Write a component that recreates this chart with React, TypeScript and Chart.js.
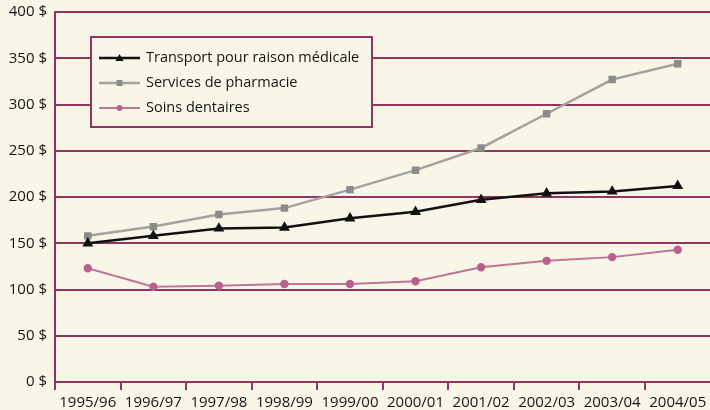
import React, { useEffect, useRef } from "react";
import { Chart, registerables } from "chart.js";

Chart.register(...registerables);

const categories = ["1995/96", "1996/97", "1997/98", "1998/99", "1999/00", "2000/01", "2001/02", "2002/03", "2003/04", "2004/05"];
const transport = [150, 158, 166, 167, 177, 184, 197, 204, 206, 212];
const pharmacie = [158, 168, 181, 188, 208, 229, 253, 290, 327, 344];
const dentaires = [123, 103, 104, 106, 106, 109, 124, 131, 135, 143];
const yTicks = [0, 50, 100, 150, 200, 250, 300, 350, 400];

const BG = "#f8f6e6";
const GRID = "#8e3562";
const FONT = "'Open Sans', sans-serif";
const WEIGHT = "500";

const legendPlugin = {
  id: "boxLegend",
  afterDraw(chart: any) {
    const ctx = chart.ctx;
    const x0 = 91, y0 = 37, w = 281, h = 90;
    ctx.save();
    ctx.fillStyle = BG;
    ctx.fillRect(x0, y0, w, h);
    ctx.strokeStyle = GRID;
    ctx.lineWidth = 2;
    ctx.strokeRect(x0, y0, w, h);
    const rows = [58, 83, 108];
    chart.data.datasets.forEach((ds: any, i: number) => {
      const y = rows[i];
      ctx.strokeStyle = ds.borderColor;
      ctx.lineWidth = ds.borderWidth;
      ctx.beginPath();
      ctx.moveTo(99, y);
      ctx.lineTo(140, y);
      ctx.stroke();
      ctx.fillStyle = ds.pointBackgroundColor;
      const cx = 119.5;
      if (ds.pointStyle === "triangle") {
        ctx.beginPath();
        ctx.moveTo(cx, y - 4);
        ctx.lineTo(cx + 4, y + 3);
        ctx.lineTo(cx - 4, y + 3);
        ctx.closePath();
        ctx.fill();
      } else if (ds.pointStyle === "rect") {
        ctx.fillRect(cx - 3, y - 3, 6, 6);
      } else {
        ctx.beginPath();
        ctx.arc(cx, y, 3, 0, Math.PI * 2);
        ctx.fill();
      }
      ctx.fillStyle = "#151515";
      ctx.font = `${WEIGHT} 14.5px ${FONT}`;
      ctx.textBaseline = "middle";
      ctx.textAlign = "left";
      ctx.fillText(ds.label, 146, y);
    });
    ctx.restore();
  },
};

const bgPlugin = {
  id: "bg",
  beforeDraw(chart: any) {
    const ctx = chart.ctx;
    ctx.save();
    ctx.fillStyle = BG;
    ctx.fillRect(0, 0, chart.width, chart.height);
    ctx.restore();
  },
};

const stretchRightPlugin = {
  id: "stretchRight",
  afterLayout(chart: any) {
    const ca = chart.chartArea;
    const right = chart.width + 0.5;
    ca.right = right;
    ca.width = ca.right - ca.left;
    const x = chart.scales.x;
    x.right = right;
    x.width = x.right - x.left;
    x.configure();
  },
};

export default function App() {
  const ref = useRef<HTMLCanvasElement>(null);
  useEffect(() => {
    document.body.style.margin = "0";
    document.body.style.background = BG;
    const chart = new Chart(ref.current!, {
      type: "line",
      data: {
        labels: categories,
        datasets: [
          {
            label: "Transport pour raison médicale",
            data: transport,
            borderColor: "#111111",
            backgroundColor: "#111111",
            pointBackgroundColor: "#111111",
            pointBorderColor: "#111111",
            borderWidth: 2.5,
            pointStyle: "triangle",
            pointRadius: 3.8,
            tension: 0,
          },
          {
            label: "Services de pharmacie",
            data: pharmacie,
            borderColor: "#a3a3a0",
            backgroundColor: "#8c8c8a",
            pointBackgroundColor: "#8c8c8a",
            pointBorderColor: "#8c8c8a",
            borderWidth: 2.5,
            pointStyle: "rect",
            pointRadius: 3.5,
            tension: 0,
          },
          {
            label: "Soins dentaires",
            data: dentaires,
            borderColor: "#c27399",
            backgroundColor: "#b8618c",
            pointBackgroundColor: "#b8618c",
            pointBorderColor: "#b8618c",
            borderWidth: 2,
            pointStyle: "circle",
            pointRadius: 3.2,
            tension: 0,
          },
        ],
      },
      options: {
        responsive: false,
        animation: false,
        layout: { padding: { top: 12, right: 0, left: 0, bottom: 0 } },
        plugins: { legend: { display: false }, tooltip: { enabled: false } },
        scales: {
          x: {
            offset: true,
            afterFit: (s: any) => { s.height = 28; s.paddingLeft = 0; s.paddingRight = 0; },
            grid: { display: true, drawOnChartArea: false, drawTicks: true, tickLength: 8, offset: true, color: GRID, lineWidth: 2 },
            border: { display: true, color: GRID, width: 2 },
            ticks: { color: "#151515", font: { family: FONT, size: 15, weight: WEIGHT }, padding: 4, maxRotation: 0, autoSkip: false },
          },
          y: {
            min: 0,
            max: 400,
            afterFit: (s: any) => { s.width = 55; s.paddingTop = 0; s.paddingBottom = 0; },
            afterBuildTicks: (s: any) => { s.ticks = yTicks.map((v) => ({ value: v })); },
            grid: { color: GRID, lineWidth: 2, drawTicks: false },
            border: { display: true, color: GRID, width: 2 },
            ticks: { color: "#151515", font: { family: FONT, size: 15, weight: WEIGHT }, padding: 8, callback: (v: any) => `${v} $` },
          },
        },
      },
      plugins: [bgPlugin, stretchRightPlugin, legendPlugin],
    });
    return () => chart.destroy();
  }, []);
  return <canvas ref={ref} width={710} height={410} style={{ display: "block" }} />;
}
